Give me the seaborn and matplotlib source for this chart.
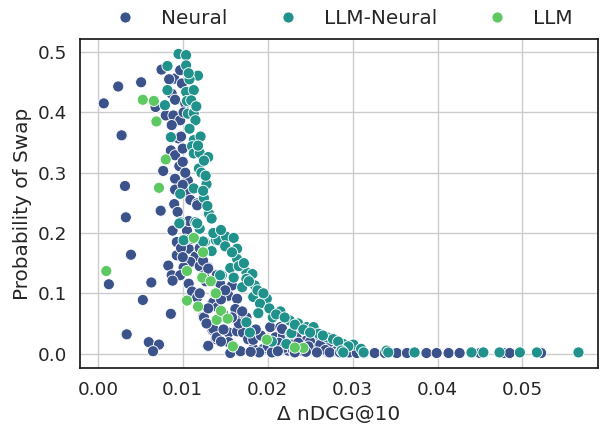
import numpy as np
import pandas as pd
import seaborn as sns
import matplotlib
matplotlib.use("Agg")
import matplotlib.pyplot as plt

series_names = ["Neural", "LLM-Neural", "LLM"]

neural_x = [0.0007, 0.0024, 0.0051, 0.0028, 0.0032, 0.0033, 0.0039, 0.0074, 0.0013, 0.0063,
            0.0053, 0.0086, 0.0034, 0.0060, 0.0072, 0.0065, 0.0130,
            0.0075, 0.0090, 0.0099, 0.0097, 0.0087, 0.0091, 0.0068, 0.0080, 0.0089, 0.0097,
            0.0087, 0.0095, 0.0086, 0.0091, 0.0096, 0.0077, 0.0091, 0.0106, 0.0091, 0.0104,
            0.0109, 0.0117, 0.0090, 0.0094, 0.0088, 0.0105, 0.0107, 0.0093, 0.0115, 0.0109,
            0.0083, 0.0130, 0.0101, 0.0087, 0.0097, 0.0107, 0.0111, 0.0117, 0.0124, 0.0135,
            0.0139, 0.0135, 0.0120, 0.0088, 0.0103, 0.0084, 0.0117, 0.0100, 0.0093,
            0.0101, 0.0098, 0.0100, 0.0103, 0.0100, 0.0107, 0.0112, 0.0098, 0.0100, 0.0120,
            0.0125,
            0.0124, 0.0130, 0.0144, 0.0158, 0.0154, 0.0164, 0.0136, 0.0162, 0.0125, 0.0166,
            0.0136, 0.0154, 0.0164, 0.0171, 0.0177, 0.0140, 0.0130, 0.0154, 0.0156, 0.0183,
            0.0195, 0.0203, 0.0215, 0.0209, 0.0218, 0.0234, 0.0246, 0.0238, 0.0256, 0.0271,
            0.0260, 0.0224, 0.0141, 0.0217, 0.0227, 0.0250, 0.0271, 0.0258, 0.0227, 0.0183,
            0.0138, 0.0148, 0.0166, 0.0150, 0.0205, 0.0242, 0.0265,
            0.0200, 0.0213, 0.0220, 0.0230, 0.0236, 0.0248, 0.0262, 0.0268, 0.0280, 0.0290,
            0.0296, 0.0192, 0.0186, 0.0175, 0.0170, 0.0158, 0.0148, 0.0145, 0.0150, 0.0140,
            0.0127, 0.0120, 0.0130, 0.0128, 0.0145, 0.0160, 0.0168, 0.0190,
            0.0180, 0.0205, 0.0232, 0.0258, 0.0273, 0.0305, 0.0313, 0.0326, 0.0338, 0.0352,
            0.0364, 0.0387, 0.0399, 0.0413, 0.0426, 0.0450, 0.0478, 0.0485, 0.0522,
            0.0212, 0.0245, 0.0285]
neural_y = [0.415, 0.443, 0.450, 0.362, 0.278, 0.226, 0.164, 0.237, 0.115, 0.118,
            0.089, 0.066, 0.032, 0.019, 0.015, 0.004, 0.012,
            0.471, 0.456, 0.448, 0.470, 0.431, 0.421, 0.409, 0.395, 0.395, 0.387,
            0.379, 0.357, 0.337, 0.329, 0.311, 0.303, 0.290, 0.287, 0.272, 0.268,
            0.255, 0.249, 0.248, 0.235, 0.204, 0.204, 0.174, 0.163, 0.161, 0.152,
            0.146, 0.143, 0.143, 0.130, 0.130, 0.116, 0.103, 0.093, 0.061, 0.039,
            0.024, 0.085, 0.145, 0.121, 0.415, 0.455, 0.246, 0.318, 0.185,
            0.400, 0.360, 0.340, 0.300, 0.280, 0.220, 0.190, 0.175, 0.160, 0.175,
            0.130,
            0.154, 0.141, 0.116, 0.113, 0.096, 0.091, 0.085, 0.074, 0.060, 0.055,
            0.041, 0.035, 0.037, 0.035, 0.024, 0.027, 0.013, 0.019, 0.001, 0.008,
            0.008, 0.044, 0.044, 0.027, 0.030, 0.027, 0.022, 0.010, 0.008, 0.002,
            0.027, 0.005, 0.077, 0.041, 0.030, 0.020, 0.016, 0.008, 0.016, 0.023,
            0.100, 0.040, 0.050, 0.060, 0.010, 0.004, 0.006,
            0.012, 0.018, 0.010, 0.005, 0.018, 0.012, 0.015, 0.006, 0.004, 0.003,
            0.002, 0.030, 0.040, 0.060, 0.070, 0.060, 0.065, 0.090, 0.105, 0.130,
            0.120, 0.100, 0.075, 0.050, 0.020, 0.012, 0.004, 0.002,
            0.003, 0.002, 0.002, 0.002, 0.002, 0.001, 0.001, 0.001, 0.001, 0.001,
            0.001, 0.001, 0.001, 0.001, 0.001, 0.001, 0.001, 0.001, 0.001,
            0.004, 0.003, 0.002]

llmneural_x = [0.0095, 0.0104, 0.0082, 0.0104, 0.0082, 0.0104, 0.0113, 0.0105, 0.0079, 0.0106,
               0.0113, 0.0115, 0.0086, 0.0108, 0.0113, 0.0111, 0.0113, 0.0120, 0.0130, 0.0119,
               0.0128, 0.0113, 0.0130, 0.0097, 0.0115, 0.0120, 0.0103, 0.0126, 0.0139, 0.0134,
               0.0097, 0.0131, 0.0134, 0.0142, 0.0151, 0.0160, 0.0164, 0.0134, 0.0164, 0.0156,
               0.0175, 0.0182, 0.0146, 0.0160, 0.0175, 0.0185, 0.0170, 0.0183, 0.0199, 0.0191,
               0.0189, 0.0215, 0.0206, 0.0226, 0.0236, 0.0246, 0.0254, 0.0270, 0.0277, 0.0179,
               0.0227, 0.0222, 0.0205, 0.0175, 0.0096, 0.0117, 0.0101, 0.0124, 0.0144, 0.0228,
               0.0289, 0.0301, 0.0260, 0.0128, 0.0122, 0.0125, 0.0118, 0.0108,
               0.0107, 0.0110, 0.0116, 0.0121, 0.0118, 0.0125, 0.0127, 0.0124, 0.0129, 0.0136,
               0.0145, 0.0150, 0.0158, 0.0166, 0.0172, 0.0178, 0.0188, 0.0195, 0.0202, 0.0210,
               0.0220, 0.0232, 0.0242, 0.0250, 0.0265, 0.0283, 0.0295, 0.0310,
               0.0287, 0.0289, 0.0313, 0.0340, 0.0342, 0.0373, 0.0440, 0.0454, 0.0473, 0.0497,
               0.0517, 0.0566]
llmneural_y = [0.497, 0.495, 0.477, 0.478, 0.437, 0.434, 0.437, 0.419, 0.412, 0.398,
               0.399, 0.387, 0.359, 0.373, 0.354, 0.344, 0.332, 0.333, 0.326, 0.307,
               0.282, 0.274, 0.232, 0.218, 0.218, 0.207, 0.189, 0.185, 0.188, 0.171,
               0.265, 0.232, 0.224, 0.188, 0.194, 0.192, 0.174, 0.170, 0.157, 0.142,
               0.135, 0.132, 0.130, 0.126, 0.124, 0.113, 0.110, 0.094, 0.091, 0.083,
               0.067, 0.070, 0.060, 0.055, 0.050, 0.044, 0.044, 0.027, 0.024, 0.035,
               0.033, 0.016, 0.020, 0.052, 0.216, 0.216, 0.188, 0.186, 0.130, 0.034,
               0.016, 0.015, 0.033, 0.281, 0.300, 0.258, 0.461, 0.455,
               0.465, 0.420, 0.410, 0.360, 0.345, 0.320, 0.295, 0.270, 0.245, 0.200,
               0.205, 0.178, 0.168, 0.145, 0.150, 0.120, 0.105, 0.100, 0.075, 0.065,
               0.060, 0.048, 0.040, 0.035, 0.030, 0.020, 0.012, 0.008,
               0.005, 0.002, 0.002, 0.005, 0.002, 0.002, 0.002, 0.002, 0.002, 0.002,
               0.002, 0.002]

llm_x = [0.0053, 0.0066, 0.0069, 0.0080, 0.0072, 0.0010, 0.0105, 0.0123, 0.0133, 0.0105,
         0.0118, 0.0140, 0.0139, 0.0113, 0.0124, 0.0145, 0.0153, 0.0199, 0.0242, 0.0232,
         0.0159]
llm_y = [0.421, 0.419, 0.385, 0.322, 0.275, 0.137, 0.137, 0.126, 0.120, 0.088,
         0.078, 0.056, 0.100, 0.192, 0.168, 0.071, 0.058, 0.023, 0.0095, 0.010,
         0.012]

df = pd.DataFrame({
    "x": neural_x + llmneural_x + llm_x,
    "y": neural_y + llmneural_y + llm_y,
    "Model": [series_names[0]] * len(neural_x) + [series_names[1]] * len(llmneural_x)
             + [series_names[2]] * len(llm_x),
})

sns.set_theme(style="whitegrid", font_scale=1.2,
              rc={"axes.edgecolor": "0.1", "axes.linewidth": 1.25})
plt.rcParams["font.family"] = ["DejaVu Sans"]

fig = plt.figure(figsize=(6.0, 4.26), dpi=100)
ax = fig.add_axes([0.1333, 0.1362, 0.8634, 0.7723])
palette = sns.color_palette("viridis", 3)
sns.scatterplot(data=df, x="x", y="y", hue="Model", hue_order=series_names,
                palette=palette, s=64, ax=ax)
ax.set_xlim(-0.0021, 0.0589)
ax.set_xlabel("Δ nDCG@10")
ax.set_ylabel("Probability of Swap")
for sp in ax.spines.values():
    sp.set_visible(True)
sns.move_legend(ax, "lower center", bbox_to_anchor=(0.5, 0.98), ncol=3,
                title=None, frameon=False, fontsize=14.4)
fig.savefig("out.png", dpi=100)
